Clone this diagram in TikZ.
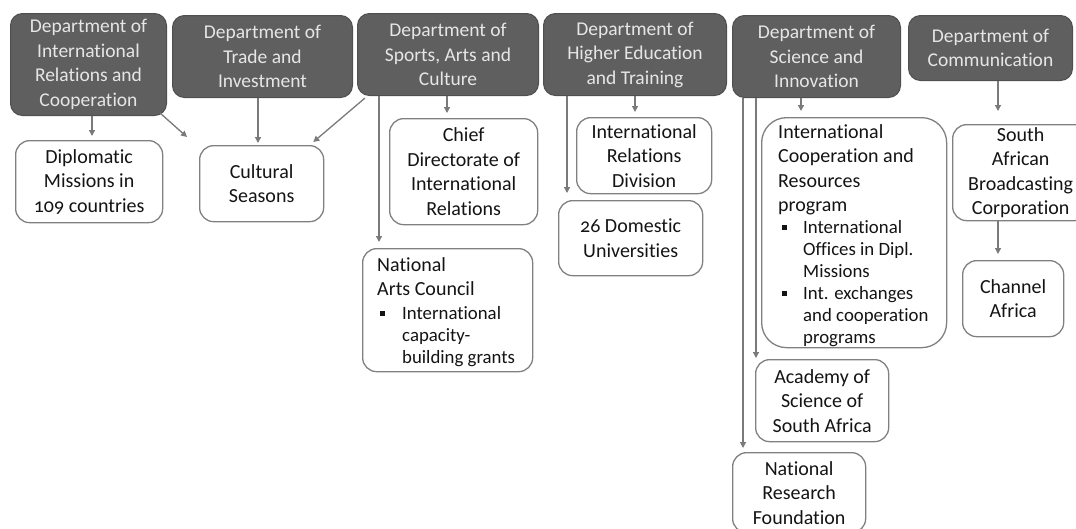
\documentclass[tikz,border=0pt]{standalone}
\usepackage{fontspec}
\setmainfont{Carlito}[Numbers=OldStyle,Ligatures={NoCommon}]
\usetikzlibrary{arrows.meta}
\definecolor{deptfill}{HTML}{5F5F5F}
\definecolor{deptline}{HTML}{4F4F4F}
\definecolor{boxline}{HTML}{808080}
\definecolor{arrcol}{HTML}{7A7A7A}
\definecolor{depttext}{HTML}{E6E6E6}
\definecolor{bodytext}{HTML}{141414}
\newcommand{\sqb}{\rule[3.5pt]{5pt}{5pt}}
\begin{document}
\begin{tikzpicture}[x=1pt,y=-1pt,
 dept/.style={draw=deptline, fill=deptfill, line width=1pt, rounded corners=12pt, anchor=north west, text=depttext, align=center, font=\fontsize{19.5}{24.5}\selectfont, inner sep=0pt},
 sub/.style={draw=boxline, fill=white, line width=1.3pt, rounded corners=14pt, anchor=north west, text=bodytext, align=center, font=\fontsize{20}{24.5}\selectfont, inner sep=0pt},
 txt/.style={anchor=north west, inner sep=0pt, text=bodytext, align=left},
 arr/.style={draw=arrcol, line width=1.3pt, -{Triangle[length=6pt,width=6pt]}}]
\useasboundingbox (0,0) rectangle (1076,528);
% departments
\node[dept, minimum width=156pt, minimum height=102pt] (irc) at (10,13) {Department of\\International\\Relations and\\Cooperation};
\node[dept, minimum width=180pt, minimum height=82pt] (trade) at (172,15) {Department of\\Trade and\\Investment};
\node[dept, minimum width=181pt, minimum height=82pt] (sports) at (357,13) {Department of\\Sports, Arts and\\Culture};
\node[dept, minimum width=183pt, minimum height=82pt] (hed) at (543,13) {Department of\\Higher Education\\and Training};
\node[dept, minimum width=168pt, minimum height=82pt] (sci) at (732,15) {Department of\\Science and\\Innovation};
\node[dept, minimum width=164pt, minimum height=65pt] (comm) at (908,15) {Department of\\Communication};
% sub units
\node[sub, minimum width=147pt, minimum height=82pt] (dipl) at (15,140) {Diplomatic\\Missions in\\109 countries};
\node[sub, minimum width=124pt, minimum height=76pt] (cult) at (199,145) {Cultural\\Seasons};
\node[sub, minimum width=148pt, minimum height=106pt] (chief) at (389,118) {Chief\\Directorate of\\International\\Relations};
\node[sub, minimum width=170pt, minimum height=123pt] (nac) at (362,248) {};
\node[sub, minimum width=135pt, minimum height=76pt] (ird) at (576,117) {International\\Relations\\Division};
\node[sub, minimum width=144pt, minimum height=75pt] (dom) at (558,200) {26 Domestic\\Universities};
\node[sub, minimum width=185pt, minimum height=230pt, rounded corners=25pt] (icr) at (761,117) {};
\node[sub, minimum width=136pt, minimum height=96pt] (sabc) at (952,124) {South\\African\\Broadcasting\\Corporation};
\node[sub, minimum width=101pt, minimum height=76pt] (chan) at (962,260) {Channel\\Africa};
\node[sub, minimum width=133pt, minimum height=82pt] (acad) at (755,359) {Academy of\\Science of\\South Africa};
\node[sub, minimum width=133pt, minimum height=80pt] (nrf) at (732,452) {National\\Research\\Foundation};
% texts of list boxes
\node[txt, font=\fontsize{20}{24}\selectfont] (nact) at (377,254) {\begin{tabular}{@{}l@{}}National\\Arts Council\end{tabular}};
\node[txt, font=\fontsize{18.8}{22}\selectfont] (nacb) at (380,304) {\begin{tabular}{@{}l@{}l@{}}\makebox[22pt][l]{\sqb}&International\\&capacity-\\&building grants\end{tabular}};
\node[txt, font=\fontsize{20}{24.4}\selectfont] (icrt) at (778,121) {\begin{tabular}{@{}l@{}}International\\Cooperation and\\Resources\\program\end{tabular}};
\node[txt, font=\fontsize{18.8}{22}\selectfont] (icrb) at (782,218) {\begin{tabular}{@{}l@{}l@{}}\makebox[21pt][l]{\sqb}&International\\&Offices in Dipl.\\&Missions\\\sqb&Int. exchanges\\&and cooperation\\&programs\end{tabular}};
% connectors
\draw[arr, shorten >=4pt] (92,0 |- irc.south) -- (92,0 |- dipl.north);
\draw[arr] ([shift={(-7,-3)}]irc.south east) -- ([shift={(-12,-8)}]cult.north west);
\draw[arr, shorten >=2pt] (258,0 |- trade.south) -- (258,0 |- cult.north);
\draw[arr] ([shift={(8,2)}]sports.south west) -- ([shift={(-11,-3)}]cult.north east);
\draw[arr, shorten >=5pt] (447,0 |- sports.south) -- (447,0 |- chief.north);
\draw[arr, shorten >=6pt] (379,0 |- sports.south) -- (379,0 |- nac.north);
\draw[arr, shorten >=5pt] (635,0 |- hed.south) -- (635,0 |- ird.north);
\draw[arr, shorten >=7pt] (567,0 |- hed.south) -- (567,0 |- dom.north);
\draw[arr, shorten >=6pt] (801,0 |- sci.south) -- (801,0 |- icr.north);
\draw[arr, shorten >=1pt] (756,0 |- sci.south) -- (756,0 |- acad.north);
\draw[arr, shorten >=4pt] (743,0 |- sci.south) -- (743,0 |- nrf.north);
\draw[arr, shorten >=13pt] (998,0 |- comm.south) -- (998,0 |- sabc.north);
\draw[arr, shorten >=6pt] (998,0 |- sabc.south) -- (998,0 |- chan.north);
\end{tikzpicture}
\end{document}
